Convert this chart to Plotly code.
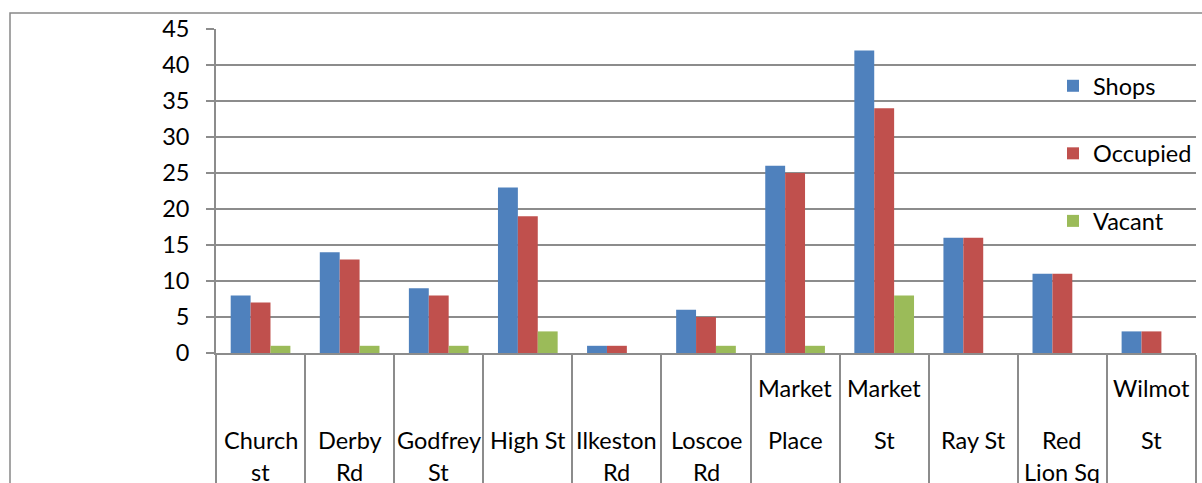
import plotly.graph_objects as go

# Shop counts per street
streets = ["Church st", "Derby Rd", "Godfrey St", "High St", "Ilkeston Rd",
           "Loscoe Rd", "Market Place", "Market St", "Ray St", "Red Lion Sq",
           "Wilmot St"]
shops = [8, 14, 9, 23, 1, 6, 26, 42, 16, 11, 3]
occupied = [7, 13, 8, 19, 1, 5, 25, 34, 16, 11, 3]
vacant = [1, 1, 1, 3, 0, 1, 1, 8, 0, 0, 0]

# How each street name is wrapped under the axis: (line text, pixel row)
label_lines = {
    "Church st": [("Church", 440), ("st", 472)],
    "Derby Rd": [("Derby", 440), ("Rd", 472)],
    "Godfrey St": [("Godfrey", 440), ("St", 472)],
    "High St": [("High St", 440)],
    "Ilkeston Rd": [("Ilkeston", 440), ("Rd", 472)],
    "Loscoe Rd": [("Loscoe", 440), ("Rd", 472)],
    "Market Place": [("Market", 388), ("Place", 440)],
    "Market St": [("Market", 388), ("St", 440)],
    "Ray St": [("Ray St", 440)],
    "Red Lion Sq": [("Red", 440), ("Lion Sq", 472)],
    "Wilmot St": [("Wilmot", 388), ("St", 440)],
}

FONT = "Lato, 'Open Sans', sans-serif"
FS = 23.5
GRID = "#8c8c8c"
LW = 1.7

W, H = 1202, 483
ML, MR, MT, MB = 216, 6, 29, 130
PH = H - MT - MB
PW = W - ML - MR


def py(pix):
    """Pixel row -> paper y coordinate."""
    return (H - MB - pix) / PH


def px(pix):
    """Pixel column -> paper x coordinate."""
    return (pix - ML) / PW


fig = go.Figure()
series = [("Shops", shops, "#4F81BD"),
          ("Occupied", occupied, "#C0504D"),
          ("Vacant", vacant, "#9BBB59")]
for name, vals, col in series:
    fig.add_trace(go.Bar(x=streets, y=vals, name=name, marker_color=col,
                         marker_line_width=0, legendgroup=name))

annotations = []
for s in streets:
    for text, row in label_lines[s]:
        annotations.append(dict(x=s, xref="x", y=py(row), yref="paper",
                                text=text, showarrow=False, yanchor="middle",
                                xanchor="center",
                                font=dict(family=FONT, size=FS, color="black")))

fig.update_layout(
    width=W, height=H,
    margin=dict(l=ML, r=MR, t=MT, b=MB, pad=0, autoexpand=False),
    paper_bgcolor="white", plot_bgcolor="white",
    barmode="group", bargap=0.33, bargroupgap=0,
    font=dict(family=FONT, size=FS, color="black"),
    legend=dict(x=px(1053), y=py(64), xanchor="left", yanchor="top",
                tracegroupgap=34, itemwidth=30,
                font=dict(family=FONT, size=FS),
                bgcolor="rgba(0,0,0,0)"),
    annotations=annotations,
    shapes=[dict(type="rect", xref="paper", yref="paper",
                 x0=px(10), x1=px(1260), y0=py(560), y1=py(13),
                 line=dict(color="#888888", width=1.5), layer="below")],
    xaxis=dict(type="category", showticklabels=False, tickson="boundaries",
               ticks="outside", ticklen=130, tickcolor=GRID, tickwidth=LW,
               showline=True, linecolor=GRID, linewidth=LW,
               showgrid=False, zeroline=False, automargin=False),
    yaxis=dict(range=[0, 45], dtick=5, tick0=0, showgrid=True,
               gridcolor=GRID, gridwidth=LW, showline=True,
               linecolor=GRID, linewidth=LW, ticks="outside", ticklen=8,
               tickcolor=GRID, tickwidth=LW, ticklabelstandoff=12,
               zeroline=False, automargin=False,
               tickfont=dict(family=FONT, size=FS)),
)

fig.write_html("out.html")
